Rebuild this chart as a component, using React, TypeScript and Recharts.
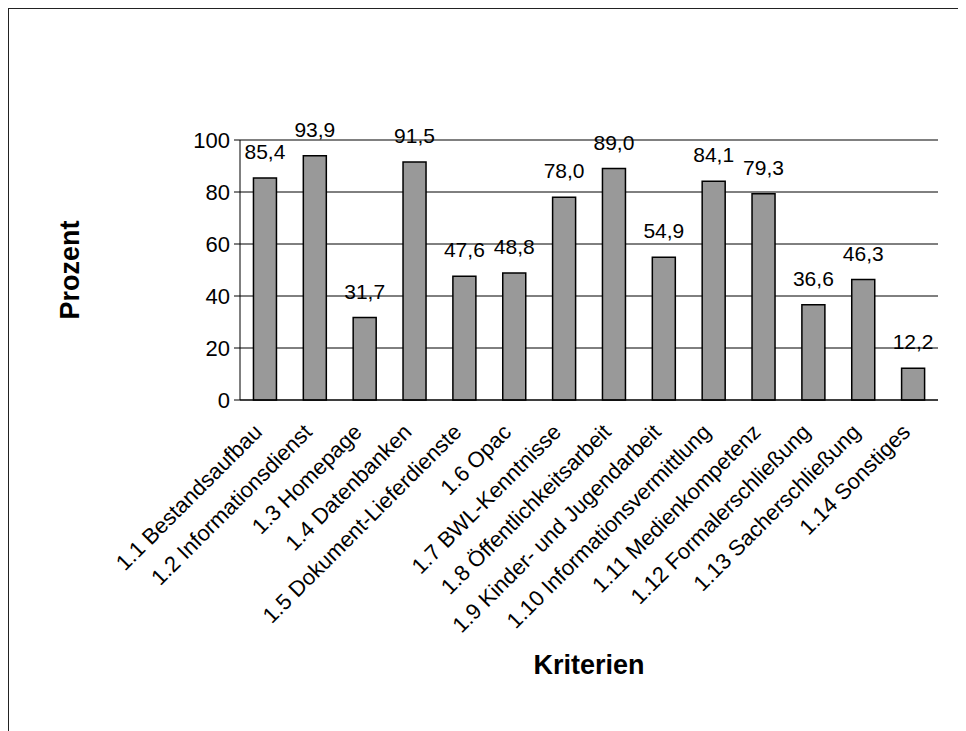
import React from 'react';
import {
  BarChart,
  Bar,
  XAxis,
  YAxis,
  CartesianGrid,
  LabelList,
  ReferenceLine,
} from 'recharts';

const categories: string[] = [
  '1.1 Bestandsaufbau',
  '1.2 Informationsdienst',
  '1.3 Homepage',
  '1.4 Datenbanken',
  '1.5 Dokument-Lieferdienste',
  '1.6 Opac',
  '1.7 BWL-Kenntnisse',
  '1.8 Öffentlichkeitsarbeit',
  '1.9 Kinder- und Jugendarbeit',
  '1.10 Informationsvermittlung',
  '1.11 Medienkompetenz',
  '1.12 Formalerschließung',
  '1.13 Sacherschließung',
  '1.14 Sonstiges',
];

const percentValues: number[] = [
  85.4, 93.9, 31.7, 91.5, 47.6, 48.8, 78.0, 89.0, 54.9, 84.1, 79.3, 36.6, 46.3, 12.2,
];

const yTicks: number[] = [0, 20, 40, 60, 80, 100];

const boundaryTicks: number[] = categories.map((_, i) => i).concat([categories.length]);

const data = categories.map((name, i) => ({ name, value: percentValues[i] }));

const FONT = '"Liberation Sans", Arial, sans-serif';

const fmt = (v: any) => Number(v).toFixed(1).replace('.', ',');

const XTick = (props: any) => {
  const { x, y, payload } = props;
  const ax = x - 7;
  const ay = y + 20;
  return (
    <text
      x={ax}
      y={ay}
      transform={`rotate(-45, ${ax}, ${ay})`}
      textAnchor="end"
      dy="0.35em"
      fontSize={22}
      fontFamily={FONT}
      fill="#000"
    >
      {payload.value}
    </text>
  );
};

const XTitle = (props: any) => {
  const vb = props.viewBox || {};
  const cx = vb.x + vb.width / 2;
  const cy = vb.y + vb.height - 66;
  return (
    <text
      x={cx}
      y={cy}
      textAnchor="middle"
      dominantBaseline="central"
      fontSize={27}
      fontWeight="bold"
      fontFamily={FONT}
      fill="#000"
    >
      Kriterien
    </text>
  );
};

const YTitle = (props: any) => {
  const vb = props.viewBox || {};
  const cx = vb.x + 62;
  const cy = vb.y + vb.height / 2;
  return (
    <text
      x={cx}
      y={cy}
      transform={`rotate(-90, ${cx}, ${cy})`}
      textAnchor="middle"
      dominantBaseline="central"
      fontSize={27}
      fontWeight="bold"
      fontFamily={FONT}
      fill="#000"
    >
      Prozent
    </text>
  );
};

export default function App() {
  return (
    <div style={{ position: 'relative', width: 958, height: 723 }}>
      <BarChart
        width={958}
        height={723}
        data={data}
        margin={{ top: 132, right: 28, left: 0, bottom: 0 }}
        barCategoryGap="27%"
      >
        <CartesianGrid vertical={false} stroke="#000" strokeWidth={1} xAxisId="num" />
        <XAxis
          xAxisId="num"
          type="number"
          domain={[0, categories.length]}
          ticks={boundaryTicks}
          height={0}
          tick={false}
          tickSize={6}
          axisLine={false}
          tickLine={{ stroke: '#000' }}
          allowDataOverflow
        />
        <XAxis
          xAxisId="cat"
          dataKey="name"
          height={331}
          interval={0}
          tickLine={false}
          axisLine={{ stroke: '#000' }}
          tick={<XTick />}
          label={{ content: <XTitle /> } as any}
        />
        <YAxis
          domain={[0, 100]}
          ticks={yTicks}
          width={232}
          tickSize={6}
          tickMargin={4}
          axisLine={{ stroke: '#000' }}
          tickLine={{ stroke: '#000' }}
          tick={{ fill: '#000', fontSize: 22, fontFamily: FONT }}
          label={{ content: <YTitle /> } as any}
        />
        <ReferenceLine xAxisId="num" y={100} stroke="#808080" strokeWidth={1.5} />
        <ReferenceLine xAxisId="num" x={categories.length} stroke="#808080" strokeWidth={1.5} />
        <Bar
          xAxisId="cat"
          dataKey="value"
          fill="#999999"
          stroke="#000"
          strokeWidth={1.5}
          isAnimationActive={false}
        >
          <LabelList
            dataKey="value"
            position="top"
            offset={19}
            formatter={fmt}
            fill="#000"
            fontSize={21}
            fontFamily={FONT}
          />
        </Bar>
      </BarChart>
      <div
        style={{
          position: 'absolute',
          left: 0,
          top: 0,
          width: 958,
          height: 723,
          borderLeft: '1.5px solid #222',
          borderTop: '1.5px solid #222',
          boxSizing: 'border-box',
          pointerEvents: 'none',
        }}
      />
    </div>
  );
}
